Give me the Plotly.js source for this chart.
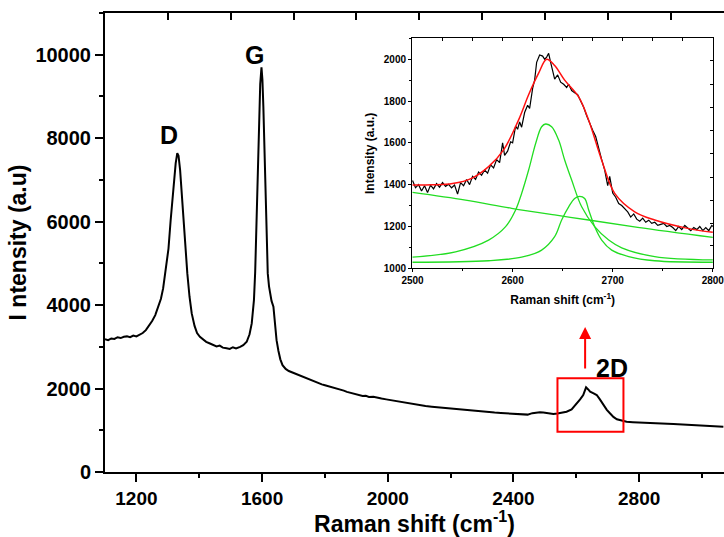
<!DOCTYPE html>
<html>
<head>
<meta charset="utf-8">
<script src="https://cdn.plot.ly/plotly-3.0.1.min.js"></script>
<style>html,body{margin:0;padding:0;background:#fff}#chart{width:724px;height:537px}</style>
</head>
<body>
<div id="chart"></div>
<script>
// Main Raman spectrum
const ramanShift = [1100,1110,1120,1130,1140,1150,1160,1170,1180,1190,1200,1210,1220,1230,1240,1250,1260,1270,1278,1285,1291,1296,1302,1309,1315,1320,1325,1330,1334,1339,1344,1349,1355,1362,1369,1376,1385,1393,1402,1412,1422,1434,1445,1455,1465,1475,1487,1497,1507,1517,1530,1540,1551,1560,1567,1574,1578,1581,1585,1588,1591,1594,1598,1601,1604,1608,1611,1615,1618,1622,1625,1630,1636,1641,1646,1652,1658,1665,1675,1685,1695,1705,1715,1725,1735,1742,1750,1760,1770,1780,1790,1800,1810,1820,1830,1840,1850,1860,1870,1880,1890,1901,1910,1920,1930,1940,1954,1965,1980,1995,2007,2020,2035,2050,2060,2081,2100,2120,2140,2160,2180,2200,2219,2240,2260,2280,2300,2320,2340,2360,2378,2395,2410,2431,2445,2460,2475,2484,2495,2510,2527,2540,2555,2569,2585,2601,2612,2622,2628,2631,2637,2644,2655,2665,2675,2686,2697,2707,2718,2729,2745,2760,2780,2800,2830,2860,2890,2909,2940,2970,3000,3030,3068];
const intensity = [3180,3160,3200,3190,3230,3210,3240,3250,3230,3270,3250,3285,3330,3400,3500,3620,3760,3950,4150,4400,4760,5000,5350,6040,6600,7000,7400,7640,7580,7240,6700,6200,5400,4760,4200,3800,3500,3330,3240,3170,3120,3080,3040,3010,3030,2980,2965,2950,2990,2960,3000,3040,3120,3300,3560,4120,4800,5560,6600,7560,8600,9300,9700,9400,8750,7500,6360,5400,4760,4450,4280,4100,3960,3500,3160,2900,2700,2560,2470,2420,2390,2350,2320,2300,2260,2245,2220,2190,2150,2130,2100,2080,2060,2040,2010,1990,1965,1950,1920,1900,1870,1845,1840,1820,1825,1800,1805,1780,1760,1740,1725,1705,1680,1665,1646,1630,1610,1580,1565,1550,1530,1515,1503,1490,1470,1455,1445,1430,1425,1415,1407,1395,1380,1366,1375,1410,1430,1431,1425,1400,1390,1400,1420,1445,1500,1630,1740,1845,1990,2030,1985,1925,1885,1845,1740,1606,1490,1407,1320,1263,1225,1205,1195,1185,1175,1165,1155,1150,1140,1125,1115,1100,1086];

// Inset: measured 2D band
const insetX = [2500,2503,2506,2509,2512,2515,2518,2521,2524,2527,2530,2533,2536,2539,2542,2545,2548,2551,2554,2557,2560,2563,2566,2569,2572,2575,2578,2581,2584,2587,2590,2592,2595,2598,2600,2603,2605,2607,2609,2612,2615,2617,2620,2622,2624,2627,2630,2632,2634,2636,2638,2640,2642,2645,2648,2651,2654,2656,2659,2662,2665,2668,2671,2674,2677,2680,2683,2686,2689,2692,2695,2697,2700,2703,2706,2709,2712,2715,2718,2721,2724,2727,2730,2733,2736,2739,2742,2745,2748,2751,2754,2757,2760,2763,2766,2769,2772,2775,2778,2781,2784,2787,2790,2793,2796,2799,2800];
const insetY = [1420,1385,1400,1370,1395,1362,1398,1380,1405,1388,1410,1392,1402,1385,1398,1355,1410,1395,1425,1400,1440,1425,1460,1445,1470,1455,1495,1480,1520,1505,1600,1540,1560,1605,1600,1680,1665,1700,1675,1745,1780,1765,1860,1900,1985,2020,2015,2000,2010,2028,1985,1950,1905,1925,1890,1880,1865,1880,1850,1840,1830,1800,1770,1730,1690,1660,1630,1570,1520,1470,1395,1440,1360,1340,1310,1300,1285,1270,1245,1260,1235,1225,1240,1220,1230,1215,1220,1205,1210,1215,1200,1205,1195,1180,1200,1185,1205,1190,1180,1195,1185,1200,1180,1195,1180,1205,1200];

// Inset: fitted curves
const fitX = [2500,2520,2540,2559,2576,2591,2606,2616,2626,2634,2642,2652,2666,2676,2689,2702,2722,2742,2775,2800];
const fitY = [1398,1399,1405,1430,1486,1566,1710,1830,1933,2000,1970,1900,1820,1708,1517,1358,1270,1231,1191,1172];
const baseX = [2500,2553,2599,2642,2676,2725,2800];
const baseY = [1363,1326,1287,1255,1231,1196,1148];
const peak1X = [2500,2543,2576,2593,2603,2609,2616,2623,2629,2633,2639,2646,2652,2659,2669,2682,2696,2709,2742,2800];
const peak1Y = [1053,1079,1135,1199,1279,1358,1470,1597,1677,1690,1677,1613,1518,1422,1294,1199,1135,1098,1056,1040];
const peak2X = [2500,2576,2609,2629,2642,2649,2656,2662,2667,2672,2676,2682,2689,2699,2716,2742,2800];
const peak2Y = [1029,1036,1053,1087,1151,1231,1294,1334,1344,1334,1279,1199,1135,1087,1056,1036,1029];

// Tick labels / positions
const mainXTicks = [1200,1600,2000,2400,2800];
const mainYTicks = [0,2000,4000,6000,8000,10000];
const mainTopTicks = [1300,1500,1700,1900,2100,2300,2500,2700,2900];
const insetXTicks = [2500,2600,2700,2800];
const insetYTicks = [1000,1200,1400,1600,1800,2000];
const insetTopTicks = [2530,2560,2590,2620,2650,2680,2710,2740,2770];
const insetRightTicks = [1992,1880,1769,1658,1547,1436,1326,1216,1107];
const peakLabels = ['D','G','2D'];
const peakLabelX = [1304,1576,2715];
const peakLabelY = [8076,10001,2500];

const FONT = 'Liberation Sans, Arial, sans-serif';
const bold = (s) => ({family: FONT, size: s, color: '#000', weight: 700});

const traces = [
  {x: ramanShift, y: intensity, type: 'scatter', mode: 'lines', line: {color: '#000', width: 2}, xaxis: 'x', yaxis: 'y', hoverinfo: 'skip'},
  {x: [], y: [], type: 'scatter', xaxis: 'x2', yaxis: 'y'},
  {x: baseX, y: baseY, type: 'scatter', mode: 'lines', line: {color: '#22dd22', width: 1.3, shape: 'spline'}, xaxis: 'x3', yaxis: 'y3'},
  {x: peak1X, y: peak1Y, type: 'scatter', mode: 'lines', line: {color: '#22dd22', width: 1.3, shape: 'spline'}, xaxis: 'x3', yaxis: 'y3'},
  {x: peak2X, y: peak2Y, type: 'scatter', mode: 'lines', line: {color: '#22dd22', width: 1.3, shape: 'spline'}, xaxis: 'x3', yaxis: 'y3'},
  {x: insetX, y: insetY, type: 'scatter', mode: 'lines', line: {color: '#000', width: 1.2}, xaxis: 'x3', yaxis: 'y3'},
  {x: fitX, y: fitY, type: 'scatter', mode: 'lines', line: {color: '#ff1010', width: 1.5, shape: 'spline'}, xaxis: 'x3', yaxis: 'y3'},
  {x: [], y: [], type: 'scatter', xaxis: 'x4', yaxis: 'y3'},
  {x: [], y: [], type: 'scatter', xaxis: 'x3', yaxis: 'y4'}
];

const annotations = peakLabels.map((t, i) => ({
  x: peakLabelX[i], y: peakLabelY[i], xref: 'x', yref: 'y', text: t, showarrow: false,
  font: bold(25), xanchor: 'center', yanchor: 'middle'
}));
annotations.push({
  x: 2628, y: 3475, ax: 2628, ay: 2444, xref: 'x', yref: 'y', axref: 'x', ayref: 'y',
  text: '', showarrow: true, arrowhead: 2, arrowsize: 1.2, arrowwidth: 2, arrowcolor: '#ff0000'
});

const layout = {
  width: 724, height: 537,
  margin: {l: 105, r: 0, t: 13, b: 65, pad: 0},
  paper_bgcolor: '#fff', plot_bgcolor: '#fff',
  showlegend: false,
  xaxis: {
    domain: [0, 1], range: [1100, 3070], showline: true, linewidth: 2, linecolor: '#000',
    ticks: 'outside', ticklen: 8, tickwidth: 2, tickcolor: '#000', tickmode: 'array', tickvals: mainXTicks, ticktext: mainXTicks.map(String),
    minor: {dtick: 200, tick0: 1200, ticks: 'outside', ticklen: 4, tickwidth: 2, tickcolor: '#000', showgrid: false},
    showgrid: false, zeroline: false, tickfont: bold(19), anchor: 'y',
    title: {text: 'Raman shift (cm<sup>-1</sup>)', font: bold(23), standoff: 8}
  },
  xaxis2: {
    overlaying: 'x', side: 'top', anchor: 'y', range: [1100, 3070], showline: true, linewidth: 2, linecolor: '#000',
    ticks: 'inside', tickmode: 'array', tickvals: mainTopTicks, ticklen: 7, tickwidth: 2, tickcolor: '#000',
    showticklabels: false, showgrid: false, zeroline: false
  },
  yaxis: {
    domain: [0, 1], range: [0, 11000], showline: true, linewidth: 2, linecolor: '#000',
    ticks: 'outside', ticklen: 8, tickwidth: 2, tickcolor: '#000', tickmode: 'array', tickvals: mainYTicks, ticktext: mainYTicks.map(String),
    minor: {dtick: 1000, tick0: 0, ticks: 'outside', ticklen: 4, tickwidth: 2, tickcolor: '#000', showgrid: false},
    showgrid: false, zeroline: false, tickfont: bold(20), anchor: 'x',
    title: {text: 'I ntensity (a.u)', font: bold(23), standoff: 2}
  },
  xaxis3: {
    domain: [0.496, 0.9827], anchor: 'y3', range: [2499.5, 2800.5], showline: true, linewidth: 1, linecolor: '#000',
    ticks: 'outside', ticklen: 3, tickwidth: 1, tickcolor: '#000', tickmode: 'array', tickvals: insetXTicks, ticktext: insetXTicks.map(String),
    minor: {dtick: 50, tick0: 2500, ticks: 'outside', ticklen: 2, tickwidth: 1, tickcolor: '#000', showgrid: false},
    showgrid: false, zeroline: false, tickfont: bold(10), ticklabeloverflow: 'allow',
    title: {text: 'Raman shift (cm<sup>-1</sup>)', font: bold(12), standoff: 10}
  },
  xaxis4: {
    overlaying: 'x3', side: 'top', anchor: 'y3', range: [2499.5, 2800.5], showline: true, linewidth: 1, linecolor: '#000',
    ticks: 'inside', tickmode: 'array', tickvals: insetTopTicks, ticklen: 3, tickwidth: 1, tickcolor: '#000',
    showticklabels: false, showgrid: false, zeroline: false
  },
  yaxis3: {
    domain: [0.4438, 0.9449], anchor: 'x3', range: [1000, 2100], showline: true, linewidth: 1, linecolor: '#000',
    ticks: 'outside', ticklen: 3, tickwidth: 1, tickcolor: '#000', tickmode: 'array', tickvals: insetYTicks, ticktext: insetYTicks.map(String),
    minor: {dtick: 100, tick0: 1000, ticks: 'outside', ticklen: 2, tickwidth: 1, tickcolor: '#000', showgrid: false},
    showgrid: false, zeroline: false, tickfont: bold(10),
    title: {text: 'Intensity (a.u.)', font: bold(12), standoff: 6}
  },
  yaxis4: {
    overlaying: 'y3', side: 'right', anchor: 'x3', range: [1000, 2100], showline: true, linewidth: 1, linecolor: '#000',
    ticks: 'inside', tickmode: 'array', tickvals: insetRightTicks, ticklen: 3, tickwidth: 1, tickcolor: '#000',
    showticklabels: false, showgrid: false, zeroline: false
  },
  shapes: [{
    type: 'rect', xref: 'x', yref: 'y', x0: 2540, x1: 2750, y0: 966, y1: 2245,
    line: {color: '#ff0000', width: 2}, fillcolor: 'rgba(0,0,0,0)'
  }],
  annotations: annotations
};

Plotly.newPlot('chart', traces, layout, {displayModeBar: false, staticPlot: true});
</script>
</body>
</html>
